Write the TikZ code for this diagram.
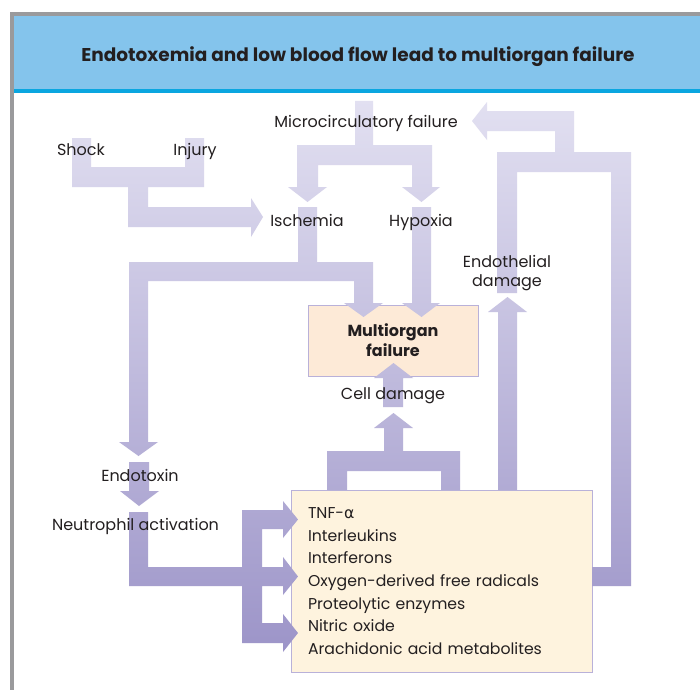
\documentclass[tikz,border=0pt]{standalone}
\usepackage{fontspec}
\setmainfont{Poppins}
\newfontfamily\greekfont{DejaVu Sans}

\definecolor{framegrey}{HTML}{9A9A9C}
\definecolor{headblue}{HTML}{84C4EC}
\definecolor{headline}{HTML}{0AA6E0}
\definecolor{flowtop}{HTML}{E2E0F1}
\definecolor{flowbot}{HTML}{9C94C8}
\definecolor{boxedge}{HTML}{B9B1D9}
\definecolor{organfill}{HTML}{FDEAD7}
\definecolor{mediatorfill}{HTML}{FEF3DE}
\definecolor{ink}{HTML}{231F20}

% broad shaded arrow, the shading runs over the whole figure
\newcommand\flowarrow[1]{%
  \begin{scope}
    \clip #1;
    \shade[top color=flowtop, bottom color=flowbot] (0,100) rectangle (700,655);
  \end{scope}}

\begin{document}
\begin{tikzpicture}[
  x=1pt, y=-1pt,
  line join=miter,
  lbl/.style={font=\fontsize{16}{19}\selectfont, text=ink, inner sep=0pt, anchor=base},
  boxnode/.style={draw=boxedge, line width=0.8pt, inner sep=0pt, text=ink}
]
  \useasboundingbox (0,0) rectangle (700,690);
  \fill[white] (0,0) rectangle (700,690);

  % Рамка и заголовок
  \fill[framegrey] (10,12) rectangle (700,16);
  \fill[framegrey] (10,12) rectangle (14,690);
  \fill[headblue] (14,16) rectangle (700,89);
  \fill[headline] (14,89) rectangle (700,93);
  \node[font=\bfseries\fontsize{18.5}{22}\selectfont, text=ink, inner sep=0pt, anchor=base]
    (title) at (358,61.7) {Endotoxemia and low blood flow lead to multiorgan failure};

  % Блоки
  \node[boxnode, fill=organfill, minimum width=170pt, minimum height=71pt,
    align=center, font=\bfseries\fontsize{16}{20}\selectfont]
    (organ) at (393,340.5) {Multiorgan\\failure};
  \node[boxnode, fill=mediatorfill, minimum width=301pt, minimum height=182pt,
    text width=267pt, inner xsep=17pt, align=left, font=\fontsize{15.7}{22.6}\selectfont]
    (mediators) at (441.5,581) {TNF-{\greekfont α}\\Interleukins\\Interferons\\Oxygen-derived free radicals\\Proteolytic enzymes\\Nitric oxide\\Arachidonic acid metabolites};

  % Shock, Injury -> Ischemia
  \flowarrow{(72,138) -- (91,138) -- (91,167) -- (185,167) -- (185,138) -- (204,138)
    -- (204,187) -- (148,187) -- (148,207) -- (251,207) -- (251,198) -- (263,217)
    -- (251,237) -- (251,227) -- (128,227) -- (128,187) -- (72,187) -- cycle}

  % Microcirculatory failure -> Ischemia, Hypoxia
  \flowarrow{(355,101) -- (373,101) -- (373,145) -- (432,145) -- (432,187) -- (440,187)
    -- (421.5,202) -- (402,187) -- (412,187) -- (412,165) -- (318,165) -- (318,187)
    -- (327,187) -- (307.5,202) -- (288,187) -- (297,187) -- (297,145) -- (355,145) -- cycle}

  % Ischemia -> Multiorgan failure, Endotoxin
  \flowarrow{(298,207) -- (317,207) -- (317,262) -- (373,262) -- (373,303) -- (383,303)
    -- (363.5,317) -- (344,303) -- (354,303) -- (354,281) -- (148,281) -- (148,442)
    -- (158,442) -- (138.5,456) -- (119,442) -- (129,442) -- (129,262) -- (298,262) -- cycle}

  % Hypoxia -> Multiorgan failure
  \flowarrow{(412,207) -- (431,207) -- (431,303) -- (440,303) -- (421.5,317) -- (402,303)
    -- (412,303) -- cycle}

  % Endotoxin -> Neutrophil activation
  \flowarrow{(129,462) -- (149,462) -- (149,491) -- (159,491) -- (139,506) -- (120,491)
    -- (129,491) -- cycle}

  % Neutrophil activation -> mediators
  \flowarrow{(129,512) -- (148,512) -- (148,567) -- (242,567) -- (242,510) -- (283,510)
    -- (283,501) -- (298,519.5) -- (283,538) -- (283,529) -- (262,529) -- (262,567)
    -- (283,567) -- (283,557) -- (298,576.5) -- (283,595) -- (283,586) -- (262,586)
    -- (262,623) -- (283,623) -- (283,614) -- (298,633) -- (283,652) -- (283,643)
    -- (242,643) -- (242,586) -- (129,586) -- cycle}

  % mediators -> Cell damage
  \flowarrow{(327,490) -- (327,451) -- (384,451) -- (384,428) -- (374,428) -- (393.5,413)
    -- (413,428) -- (403,428) -- (403,451) -- (460,451) -- (460,490) -- (441,490)
    -- (441,471) -- (347,471) -- (347,490) -- cycle}

  % Cell damage -> Multiorgan failure
  \flowarrow{(383,407) -- (383,378) -- (374,378) -- (393.5,363) -- (413,378) -- (403,378)
    -- (403,407) -- cycle}

  % mediators -> Endothelial damage
  \flowarrow{(498,490) -- (498,312) -- (488,312) -- (507.5,297) -- (527,312) -- (517,312)
    -- (517,490) -- cycle}

  % mediators, Endothelial damage -> Microcirculatory failure
  \flowarrow{(592,567) -- (611,567) -- (611,172) -- (517,172) -- (517,293) -- (497,293)
    -- (497,152) -- (555,152) -- (555,131) -- (487,131) -- (487,140) -- (472,121)
    -- (487,102) -- (487,111) -- (574,111) -- (574,152) -- (631,152) -- (631,586)
    -- (592,586) -- cycle}

  % Подписи
  \node[lbl] (micro) at (366,127.7) {Microcirculatory failure};
  \node[lbl] (shock) at (81,155.7) {Shock};
  \node[lbl] (injury) at (195,155.7) {Injury};
  \node[lbl] (ischemia) at (307,226) {Ischemia};
  \node[lbl] (hypoxia) at (421,226) {Hypoxia};
  \node[lbl] (endothelial) at (507,267.7) {Endothelial};
  \node[lbl] (damage) at (507,286.7) {damage};
  \node[lbl] (cell) at (393,399.3) {Cell damage};
  \node[lbl] (endotoxin) at (140,481) {Endotoxin};
  \node[lbl] (neutrophil) at (135.5,530.7) {Neutrophil activation};
\end{tikzpicture}
\end{document}
